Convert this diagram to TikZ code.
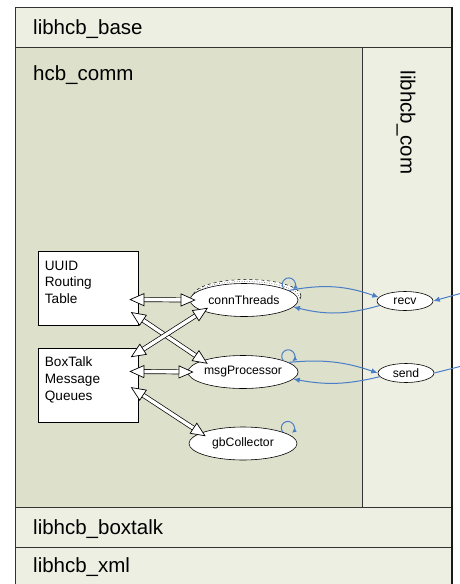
\documentclass[tikz,border=0pt]{standalone}
\usepackage{fontspec}
\setmainfont{Liberation Sans}
\usetikzlibrary{arrows.meta,shapes.geometric}
\definecolor{paneau}{RGB}{238,239,227}
\definecolor{cadre}{RGB}{221,224,203}
\definecolor{bleu}{RGB}{74,126,199}
\begin{document}
\begin{tikzpicture}[x=1pt,y=1pt]
\tikzset{couche/.style={anchor=west, inner sep=0pt, font=\fontsize{20.5}{24}\selectfont},
boite/.style={draw, fill=white, minimum width=100pt, minimum height=74pt, inner sep=0pt, line width=0.6pt},
texte/.style={anchor=north west, align=left, inner sep=0pt, font=\fontsize{13.6}{16.7}\selectfont},
tache/.style={draw, fill=white, ellipse, inner sep=0pt, minimum width=108pt, minimum height=33pt, line width=0.6pt, font=\fontsize{12.2}{14}\selectfont},
ombre/.style={tache, dashed, line width=0.5pt},
petite/.style={tache, minimum width=56pt, minimum height=19pt},
pointe/.tip={Triangle[color=black, fill=white, length=15pt, width=13pt]},
fleche/.style={draw=white, line width=0.7pt, shorten <=-9pt, shorten >=-6pt, {pointe}-{pointe},
  preaction={draw=black, double=white, double distance=3.4pt, -, shorten <=-1pt, shorten >=2pt}},
lien/.style={bleu, line width=1pt, -{Latex[length=6.5pt,width=5.5pt]}},
boucle/.style={bleu, line width=1pt, -{Latex[length=4.5pt,width=4.5pt]}}}
\useasboundingbox (0,0) rectangle (460,-584);
\clip (0,0) rectangle (460,-584);
\draw[fill=paneau, draw=black!80, line width=0.8pt] (15,-7) rectangle (452,-600);
\draw[fill=cadre, draw=black!80, line width=0.8pt] (15,-47) rectangle (362,-507);
\draw[black!80, line width=0.8pt] (15,-47) -- (452,-47);
\draw[black!80, line width=0.8pt] (15,-507) -- (452,-507);
\draw[black!80, line width=0.8pt] (15,-547) -- (452,-547);
\draw[black!90, line width=1.2pt] (452,-7) -- (452,-600);
\node[couche] (base) at (33,-29) {libhcb\_base};
\node[couche] (comm) at (33,-75.5) {hcb\_comm};
\node[couche] (boxtalk) at (33,-529.5) {libhcb\_boxtalk};
\node[couche] (xml) at (33,-567.5) {libhcb\_xml};
\node[couche, anchor=center, rotate=-90] (com) at (406,-122.5) {libhcb\_com};
\node[boite] (uuid) at (88,-288) {};
\node[texte] (uuidt) at ([xshift=7pt,yshift=-10pt]uuid.north west) {UUID\\Routing\\Table};
\node[boite] (bt) at (88,-385) {};
\node[texte] (btt) at ([xshift=7pt,yshift=-9pt]bt.north west) {BoxTalk\\Message\\Queues};
\node[ombre] (conn3) at (247,-296) {};
\node[ombre, dotted] (conn2) at (245.5,-298) {};
\node[tache] (conn) at (244,-300) {connThreads};
\node[tache] (msg) at (243,-372) {msgProcessor};
\node[tache] (gb) at (243,-443.5) {gbCollector};
\node[petite] (recv) at (405,-301) {recv};
\node[petite] (send) at (406,-373) {send};
\coordinate (entree) at (462,-293);
\coordinate (sortie) at (462,-366);
\draw[fleche] (uuid.-13) -- (conn.west);
\draw[fleche] (uuid.-30) -- (msg.164);
\draw[fleche] (bt.33) -- (conn.195);
\draw[fleche] (bt.15) -- (msg.west);
\draw[fleche] (bt.-8) -- (gb.166);
\draw[lien] (conn.12) to[bend left=15] (recv.172);
\draw[lien] (recv.190) to[bend left=15] (conn.-8);
\draw[lien] (entree) -- (recv.east);
\draw[lien] (msg.12) to[bend left=12] (send.west);
\draw[lien] (send.188) to[bend left=12] (msg.-8);
\draw[bleu, line width=1pt] (send.east) -- (sortie);
\draw[boucle] (conn.16) arc[start angle=220, end angle=-50, radius=6.5pt];
\draw[boucle] (msg.16) arc[start angle=220, end angle=-50, radius=6.5pt];
\draw[boucle] (gb.16) arc[start angle=220, end angle=-50, radius=6.5pt];
\end{tikzpicture}
\end{document}
